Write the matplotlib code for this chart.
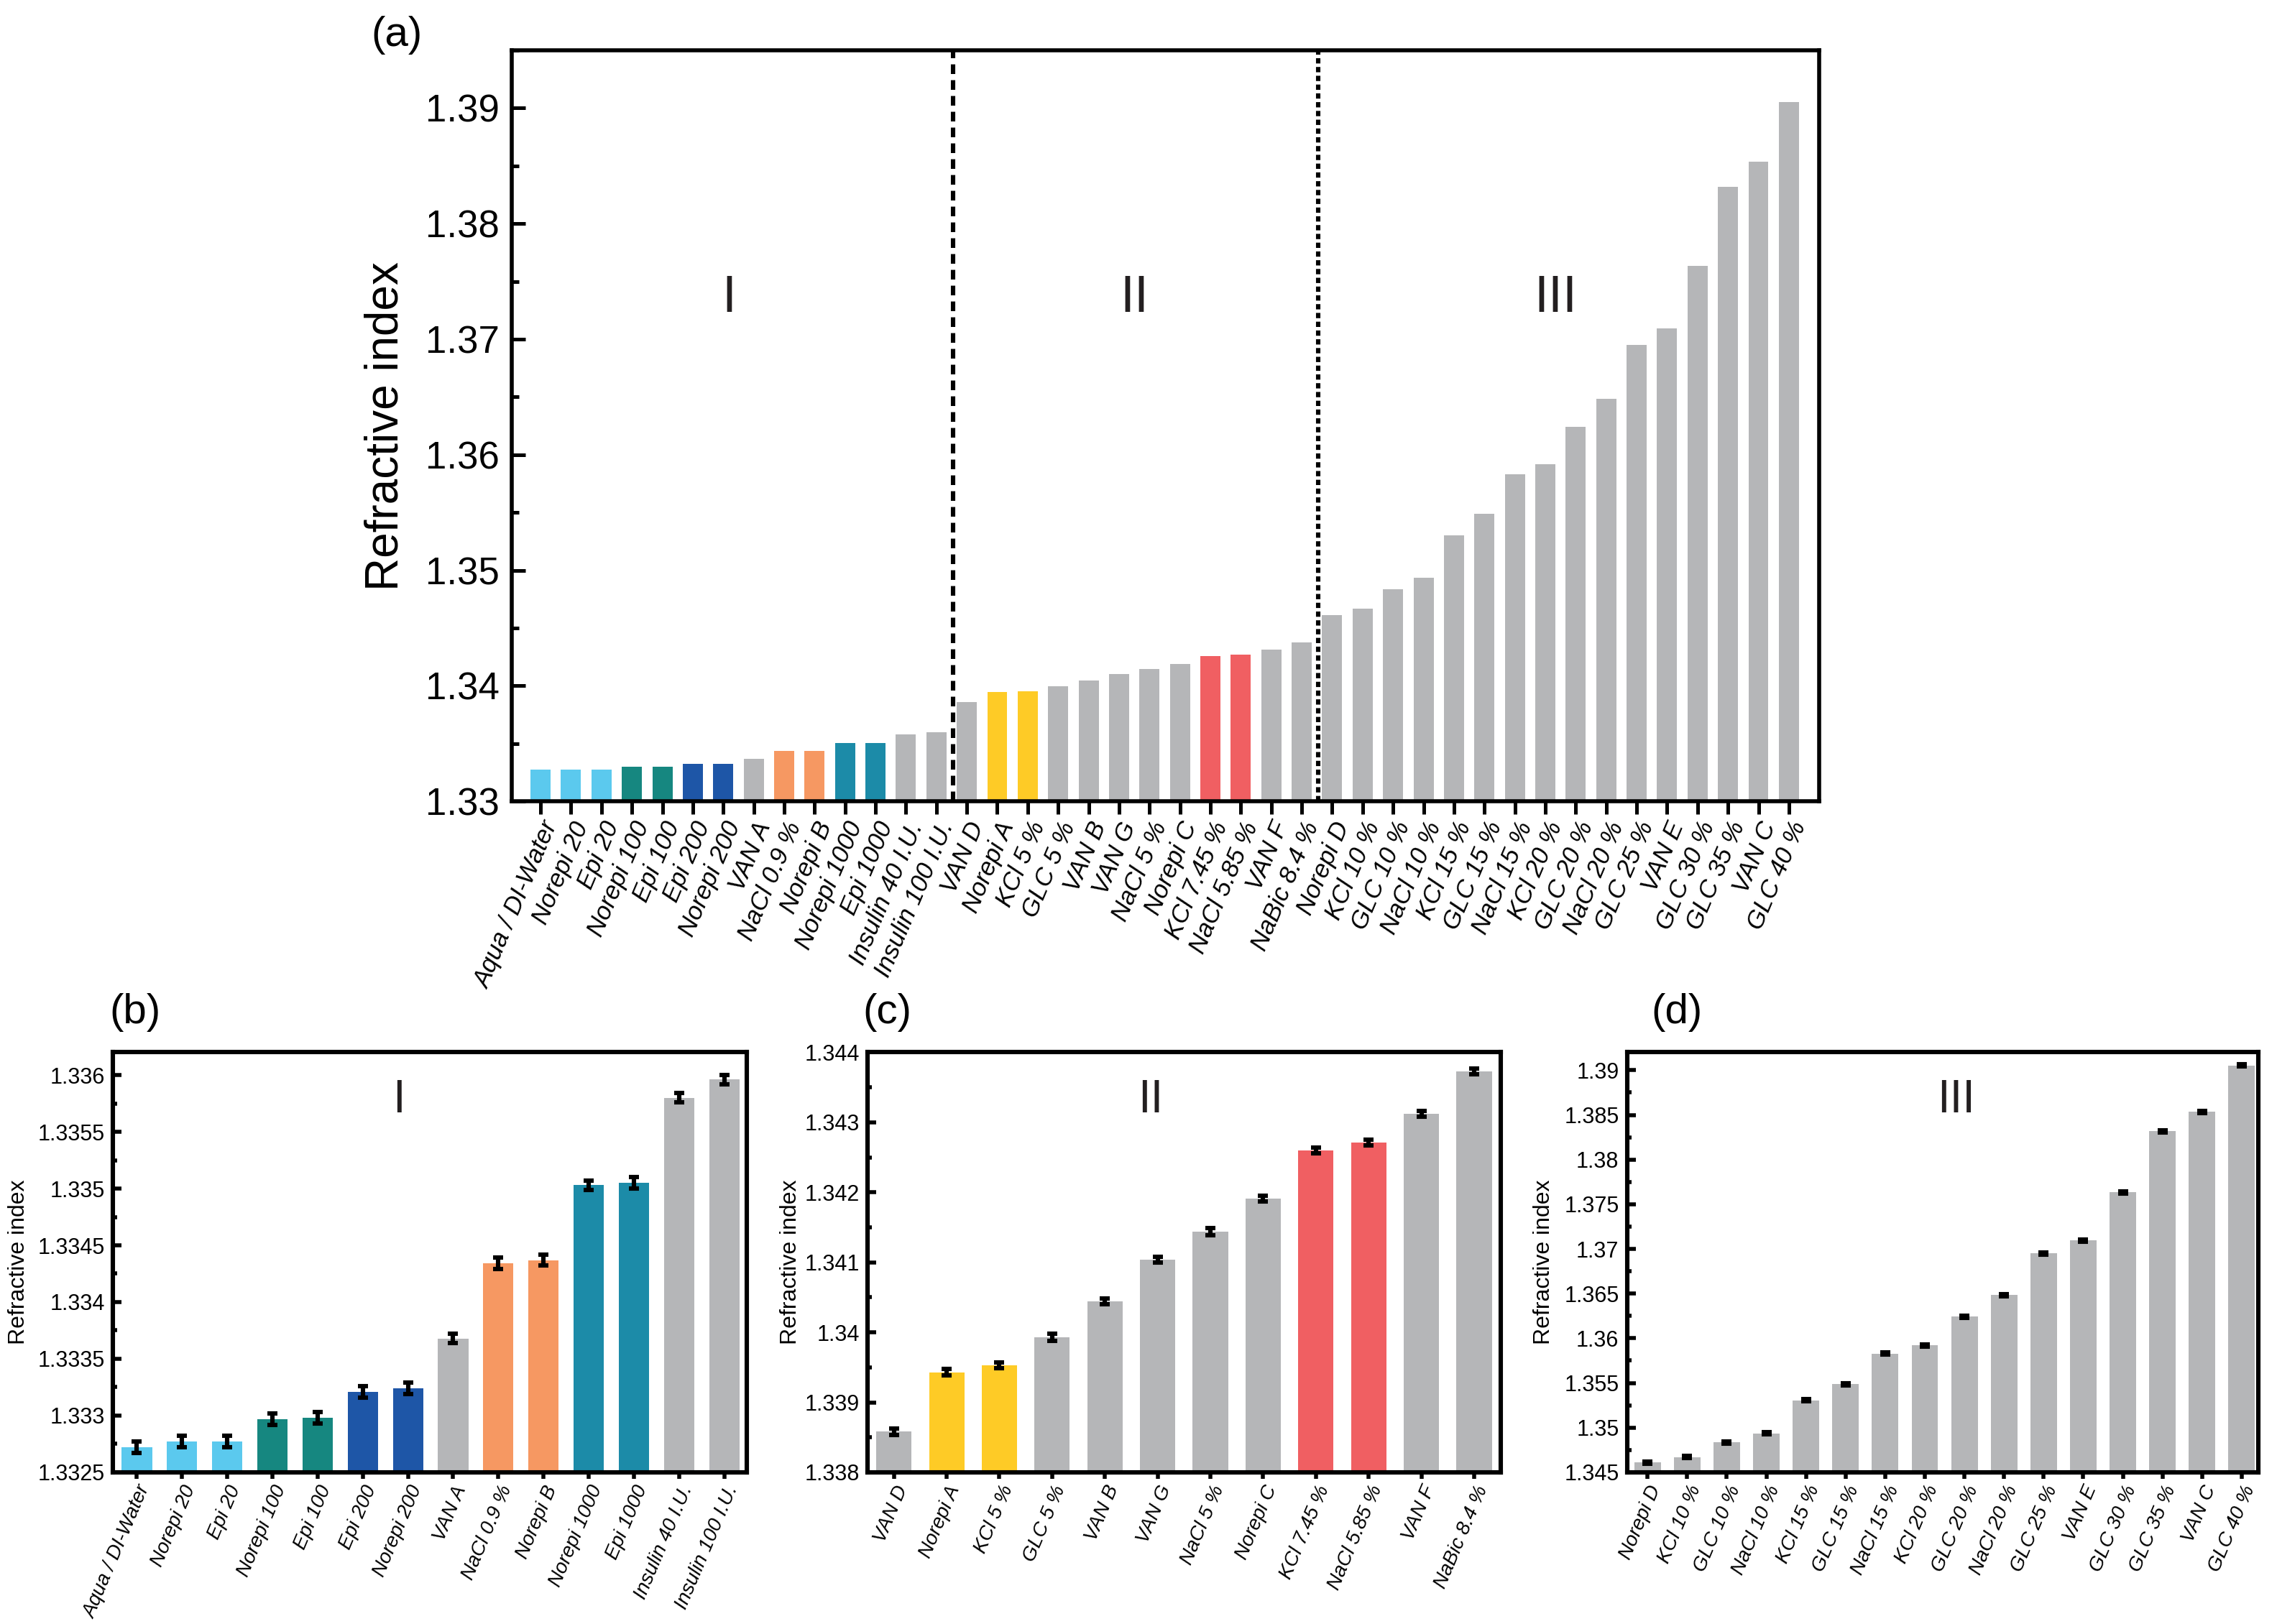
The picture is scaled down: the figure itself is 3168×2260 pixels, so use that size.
import matplotlib
matplotlib.use('Agg')
import matplotlib.pyplot as plt
from matplotlib.ticker import MultipleLocator, FuncFormatter

plt.rcParams['font.family'] = ['Liberation Sans', 'DejaVu Sans']

# colours
LBLUE = '#5bc9ee'
TEAL = '#168780'
BLUE = '#1e56a7'
GRAY = '#b5b6b8'
ORANGE = '#f69862'
CYAN = '#1c8ba8'
YELLOW = '#fecb26'
RED = '#f05f62'

# group I
labels_I = ['Aqua / DI-Water', 'Norepi 20', 'Epi 20', 'Norepi 100', 'Epi 100',
            'Epi 200', 'Norepi 200', 'VAN A', 'NaCl 0.9 %', 'Norepi B',
            'Norepi 1000', 'Epi 1000', 'Insulin 40 I.U.', 'Insulin 100 I.U.']
values_I = [1.33272, 1.33277, 1.33277, 1.33297, 1.33298, 1.33321, 1.33324,
            1.33368, 1.33434, 1.33437, 1.33503, 1.33505, 1.33580, 1.33596]
err_I = [0.00005, 0.00005, 0.00005, 0.00005, 0.00005, 0.00005, 0.00005,
         0.00004, 0.00005, 0.00005, 0.00004, 0.00005, 0.00004, 0.00004]
colors_I = [LBLUE, LBLUE, LBLUE, TEAL, TEAL, BLUE, BLUE, GRAY, ORANGE, ORANGE,
            CYAN, CYAN, GRAY, GRAY]

# group II
labels_II = ['VAN D', 'Norepi A', 'KCl 5 %', 'GLC 5 %', 'VAN B', 'VAN G',
             'NaCl 5 %', 'Norepi C', 'KCl 7.45 %', 'NaCl 5.85 %', 'VAN F',
             'NaBic 8.4 %']
values_II = [1.33858, 1.33943, 1.33953, 1.33993, 1.34044, 1.34104, 1.34144,
             1.34191, 1.34260, 1.34271, 1.34312, 1.34373]
err_II = [0.00005, 0.00005, 0.00004, 0.00005, 0.00004, 0.00004, 0.00005,
          0.00004, 0.00004, 0.00004, 0.00004, 0.00004]
colors_II = [GRAY, YELLOW, YELLOW, GRAY, GRAY, GRAY, GRAY, GRAY, RED, RED,
             GRAY, GRAY]

# group III
labels_III = ['Norepi D', 'KCl 10 %', 'GLC 10 %', 'NaCl 10 %', 'KCl 15 %',
              'GLC 15 %', 'NaCl 15 %', 'KCl 20 %', 'GLC 20 %', 'NaCl 20 %',
              'GLC 25 %', 'VAN E', 'GLC 30 %', 'GLC 35 %', 'VAN C', 'GLC 40 %']
values_III = [1.3461, 1.3467, 1.34835, 1.34937, 1.35304, 1.35488, 1.35828,
              1.3592, 1.36242, 1.36485, 1.36949, 1.37096, 1.37634, 1.38319,
              1.38535, 1.39054]
err_III = [0.00012] * 16
colors_III = [GRAY] * 16

fmt = FuncFormatter(lambda v, p: f'{v:g}')


def style_axis(ax, lw, ymaj, ymin, xlen, ylen):
    for s in ax.spines.values():
        s.set_linewidth(lw)
    ax.tick_params(axis='y', which='major', direction='in', length=ylen,
                   width=lw * 0.9, pad=4)
    ax.tick_params(axis='y', which='minor', direction='in', length=ylen * 0.5,
                   width=lw * 0.9)
    ax.tick_params(axis='x', which='major', direction='out', length=xlen,
                   width=lw * 0.9, pad=2)
    ax.yaxis.set_major_locator(MultipleLocator(ymaj))
    ax.yaxis.set_minor_locator(MultipleLocator(ymin))
    ax.yaxis.set_major_formatter(fmt)


def panel(ax, labels, values, errs, colors, ylim, ymaj, title, tx, ty, xlim,
          ylab_x, tag, tag_x):
    x = range(len(labels))
    ax.bar(x, [v - ylim[0] for v in values], bottom=ylim[0], width=0.67,
           color=colors, zorder=2)
    ax.errorbar(x, values, yerr=errs, fmt='none', ecolor='black',
                elinewidth=2.2, capsize=2.6, capthick=2.2, zorder=3)
    ax.set_xlim(*xlim)
    ax.set_ylim(*ylim)
    ax.set_xticks(list(x))
    ax.set_xticklabels(labels, rotation=67, ha='right', rotation_mode='anchor',
                       fontsize=10, style='italic')
    style_axis(ax, 2.2, ymaj, ymaj / 2, 3.2, 4.4)
    ax.tick_params(axis='y', labelsize=11)
    ax.set_ylabel('Refractive index', fontsize=11.5)
    ax.yaxis.set_label_coords(ylab_x, 0.5)
    ax.text(tx, ty, title, fontsize=23, ha='center', va='center',
            color='#231f20')
    ax.text(tag_x, 1.095, tag, transform=ax.transAxes, fontsize=21,
            ha='center', va='center')


fig = plt.figure(figsize=(15.84, 11.3), dpi=200)

# (a) overview
ax_a = fig.add_axes([0.2247, 0.5066, 0.5743, 0.4624])
all_labels = labels_I + labels_II + labels_III
all_values = values_I + values_II + values_III
all_colors = colors_I + colors_II + colors_III
xa = range(len(all_labels))
ax_a.bar(xa, [v - 1.33 for v in all_values], bottom=1.33, width=0.66,
         color=all_colors, zorder=2)
ax_a.set_xlim(-0.95, 42.0)
ax_a.set_ylim(1.33, 1.395)
ax_a.axvline(len(labels_I) - 0.45, color='black', lw=2.2,
             linestyle=(0, (2.2, 1.4)), zorder=3)
ax_a.axvline(len(labels_I) + len(labels_II) - 0.45, color='black', lw=2.2,
             linestyle=(0, (1.2, 0.8)), zorder=3)
ax_a.set_xticks(list(xa))
ax_a.set_xticklabels(all_labels, rotation=67, ha='right',
                     rotation_mode='anchor', fontsize=12.5, style='italic')
style_axis(ax_a, 2.0, 0.01, 0.005, 6.5, 7)
ax_a.tick_params(axis='y', labelsize=19, pad=6)
ax_a.set_ylabel('Refractive index', fontsize=23)
ax_a.yaxis.set_label_coords(-0.080, 0.5)
for t, xx in zip(['I', 'II', 'III'], [6.2, 19.5, 33.35]):
    ax_a.text(xx, 1.3735, t, fontsize=26, ha='center', va='center',
              color='#231f20')
ax_a.text(-0.088, 1.02, '(a)', transform=ax_a.transAxes, fontsize=21,
          ha='center', va='center')

ax_b = fig.add_axes([0.0496, 0.0934, 0.2784, 0.2586])
panel(ax_b, labels_I, values_I, err_I, colors_I, (1.3325, 1.3362), 0.0005,
      'I', 5.8, 1.33578, (-0.53, 13.5), -0.132, '(b)', 0.035)

ax_c = fig.add_axes([0.381, 0.0934, 0.278, 0.2586])
panel(ax_c, labels_II, values_II, err_II, colors_II, (1.338, 1.344), 0.001,
      'II', 4.87, 1.34332, (-0.5, 11.5), -0.104, '(c)', 0.031)

ax_d = fig.add_axes([0.7145, 0.0934, 0.2773, 0.2586])
panel(ax_d, labels_III, values_III, err_III, colors_III, (1.345, 1.392), 0.005,
      'III', 7.79, 1.38668, (-0.52, 15.42), -0.1145, '(d)', 0.079)

fig.savefig('out.png', dpi=200)
